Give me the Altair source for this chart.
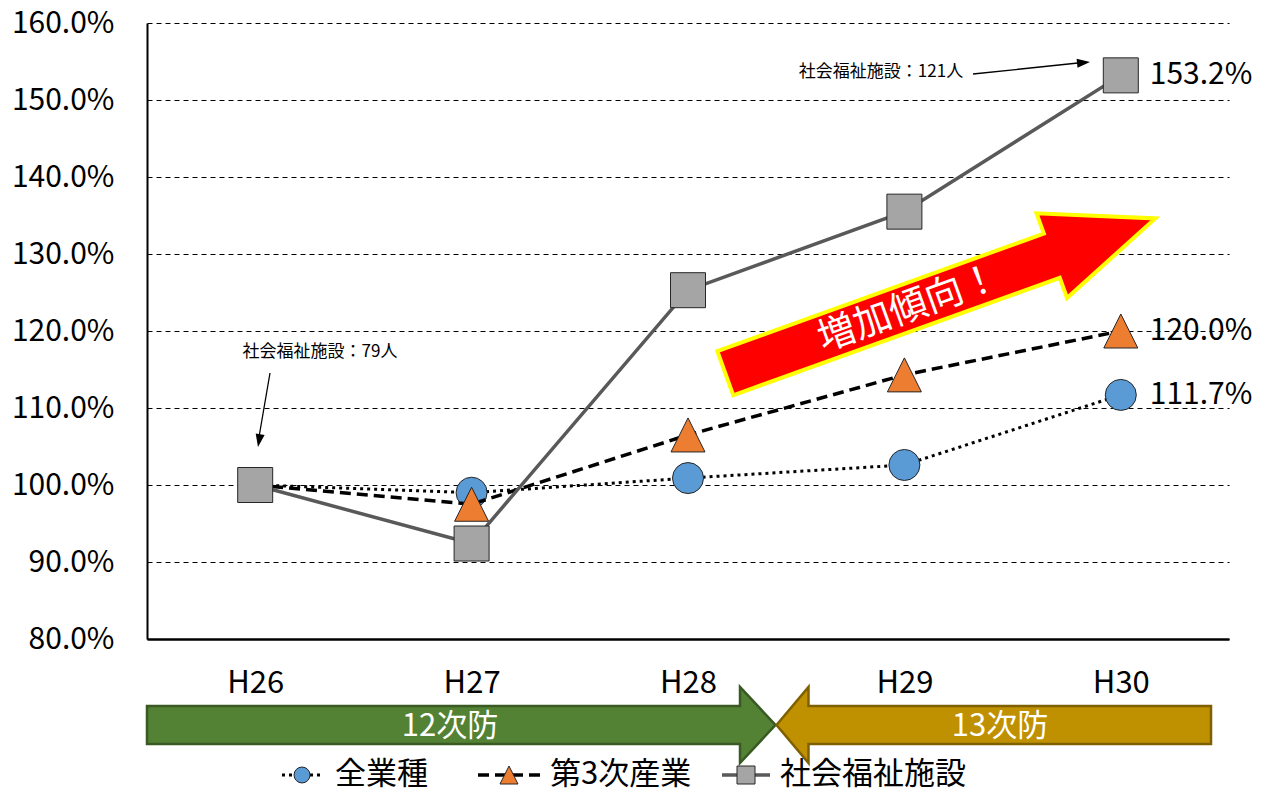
import altair as alt
import pandas as pd

# ---------------- data ----------------
years = ["H26", "H27", "H28", "H29", "H30"]
series_names = ["全業種", "第3次産業", "社会福祉施設"]
all_industries = [100.0, 99.0, 100.9, 102.6, 111.7]
tertiary = [100.0, 97.5, 106.5, 114.3, 120.0]
welfare = [100.0, 92.4, 125.3, 135.5, 153.2]
y_ticks = [80, 90, 100, 110, 120, 130, 140, 150, 160]
note_start = "社会福祉施設：79人"
note_end = "社会福祉施設：121人"
trend_text = "増加傾向！"
period_labels = ["12次防", "13次防"]

FONT = "Noto Sans CJK JP"
W, H = 1082, 616

rows = []
for name, vals in zip(series_names, [all_industries, tertiary, welfare]):
    for yr, v in zip(years, vals):
        rows.append({"year": yr, "series": name, "value": v, "label": f"{v:.1f}%"})
df = pd.DataFrame(rows)

x_enc = alt.X(
    "year:N", sort=years, scale=alt.Scale(type="point", padding=0.5),
    axis=alt.Axis(title=None, labelAngle=0, ticks=False, labelPadding=29,
                  labelFontSize=31, labelFont=FONT, labelColor="black",
                  domainColor="black", domainWidth=2.5, grid=False))
y_enc = alt.Y(
    "value:Q", scale=alt.Scale(domain=[80, 160], nice=False, zero=False),
    axis=alt.Axis(title=None, values=y_ticks,
                  labelExpr="format(datum.value, '.1f') + '%'",
                  ticks=False, labelPadding=33, labelFontSize=30, labelFont=FONT,
                  labelColor="black", domainColor="black", domainWidth=2,
                  grid=True, gridColor="black", gridDash=[5, 4], gridWidth=1))

TRI = "M0,-1L1,1L-1,1Z"
line_styles = [
    dict(color="black", strokeWidth=3, strokeDash=[3, 4]),
    dict(color="black", strokeWidth=3.5, strokeDash=[11, 6]),
    dict(color="#595959", strokeWidth=3.5),
]
point_styles = [
    dict(shape="circle", fill="#5B9BD5", size=962),
    dict(shape=TRI, fill="#ED7D31", size=1156),
    dict(shape="square", fill="#A5A5A5", size=1225),
]

base = alt.Chart(df)
layers = []
for name, ls, ps in zip(series_names, line_styles, point_styles):
    sub = base.transform_filter(alt.datum.series == name)
    layers.append(sub.mark_line(**ls).encode(x=x_enc, y=y_enc))
    layers.append(sub.mark_point(filled=True, opacity=1, stroke="#262626",
                                 strokeWidth=1, **ps).encode(x=x_enc, y=y_enc))

layers.append(
    base.transform_filter(alt.datum.year == years[-1])
    .mark_text(align="left", baseline="middle", dx=29, fontSize=30, font=FONT, color="black")
    .encode(x=x_enc, y=y_enc, text="label:N"))

one = pd.DataFrame({"k": [0]})


def txt(text, x, y, **kw):
    return alt.Chart(pd.DataFrame({"t": [text]})).mark_text(font=FONT, **kw).encode(
        x=alt.value(x), y=alt.value(y), text="t:N")


def shape(path, x, y, size=4, **kw):
    return alt.Chart(one).mark_point(shape=path, size=size, filled=True, opacity=1, **kw).encode(
        x=alt.value(x), y=alt.value(y))


def rule(x1, y1, x2, y2, **kw):
    return alt.Chart(one).mark_rule(**kw).encode(
        x=alt.value(x1), y=alt.value(y1), x2=alt.value(x2), y2=alt.value(y2))


HEAD = "M0,0L-4.5,-13L4.5,-13Z"

# annotations with small arrows
layers += [
    txt(note_start, 173, 329, fontSize=17, align="center", baseline="middle", color="black"),
    rule(123, 350, 112, 414, color="black", strokeWidth=1.3),
    shape(HEAD, 111, 424, angle=9.5, fill="black"),
    txt(note_end, 734, 49, fontSize=17, align="center", baseline="middle", color="black"),
    rule(826, 51, 931, 40, color="black", strokeWidth=1.3),
    shape(HEAD, 943, 39, angle=264.2, fill="black"),
]

# big red trend arrow
RED_ARROW = "M-228.5,-23.5L118.5,-23.5L118.5,-45L228.5,0L118.5,45L118.5,23.5L-228.5,23.5Z"
layers += [
    shape(RED_ARROW, 793.3, 272.8, angle=340.2, fill="#FF0000", stroke="#FFFF00", strokeWidth=4),
    txt(trend_text, 762, 286, fontSize=38, angle=340.2, align="center", baseline="middle", color="white"),
]

# period arrows under the axis
GREEN = "M-628.5,-19L-35.5,-19L-35.5,-38L0,0L-35.5,38L-35.5,19L-628.5,19Z"
GOLD = "M0,0L32,-38L32,-19L434.5,-19L434.5,19L32,19L32,38Z"
layers += [
    shape(GREEN, 628.5, 702, fill="#548235", stroke="#3A5A24", strokeWidth=2.5),
    shape(GOLD, 629.5, 702, fill="#BF9000", stroke="#7F6000", strokeWidth=2.5),
    txt(period_labels[0], 303, 704, fontSize=31, align="center", baseline="middle", color="white"),
    txt(period_labels[1], 853, 704, fontSize=31, align="center", baseline="middle", color="white"),
]

# custom legend
LY = 752
layers += [
    rule(135, LY, 175, LY, color="black", strokeWidth=3, strokeDash=[3, 4]),
    shape("circle", 155, LY, size=254, fill="#5B9BD5", stroke="#262626", strokeWidth=1),
    txt(series_names[0], 188, LY, fontSize=31, align="left", baseline="middle", color="black"),
    rule(331, LY, 393, LY, color="black", strokeWidth=3.5, strokeDash=[11, 6]),
    shape(TRI, 362, LY, size=324, fill="#ED7D31", stroke="#262626", strokeWidth=1),
    txt(series_names[1], 403, LY, fontSize=31, align="left", baseline="middle", color="black"),
    rule(575, LY, 623, LY, color="#595959", strokeWidth=3.5),
    shape("square", 599, LY, size=324, fill="#A5A5A5", stroke="#262626", strokeWidth=1),
    txt(series_names[2], 633, LY, fontSize=31, align="left", baseline="middle", color="black"),
]

chart = alt.layer(*layers).properties(
    width=W, height=H,
    autosize=alt.AutoSizeParams(type="none"),
    padding={"left": 139, "top": 15, "right": 31, "bottom": 153},
).configure_view(stroke=None)

chart.save("out.html", embed_options={"renderer": "svg", "actions": False})
